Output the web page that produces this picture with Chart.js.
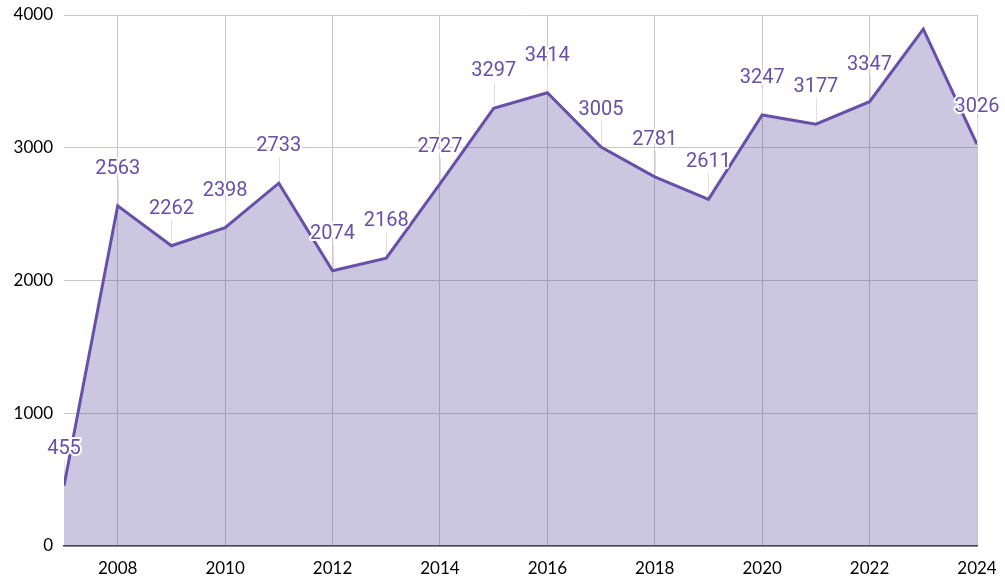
<!DOCTYPE html>
<html>
<head>
<meta charset="utf-8">
<script src="https://cdn.jsdelivr.net/npm/chart.js@4/dist/chart.umd.min.js"></script>
<style>
html,body{margin:0;padding:0;background:#fff}
#wrap{width:1005px;height:581px}
</style>
</head>
<body>
<div id="wrap"><canvas id="chart"></canvas></div>
<script>
// yearly values
const years = [2007,2008,2009,2010,2011,2012,2013,2014,2015,2016,2017,2018,2019,2020,2021,2022,2023,2024];
const values = [455,2563,2262,2398,2733,2074,2168,2727,3297,3414,3005,2781,2611,3247,3177,3347,3893,3026];
const xTicks = [2008,2010,2012,2014,2016,2018,2020,2022,2024];
const yTicks = [0,1000,2000,3000,4000];

const LINE = '#6650a8';
const LABEL = '#6650a8';

// value labels above each point, with a thin leader line and white halo
const valueLabels = {
  id:'valueLabels',
  beforeDatasetsDraw(chart){
    const ctx = chart.ctx, pts = chart.getDatasetMeta(0).data;
    ctx.save();
    ctx.strokeStyle = '#e0e0e0'; ctx.lineWidth = 1;
    pts.forEach(p=>{
      const ly = p.y - 37;
      if(ly - 10 < 0) return;
      ctx.beginPath();
      ctx.moveTo(Math.round(p.x)+0.5, ly + 11);
      ctx.lineTo(Math.round(p.x)+0.5, p.y);
      ctx.stroke();
    });
    ctx.restore();
  },
  afterDatasetsDraw(chart){
    const ctx = chart.ctx, pts = chart.getDatasetMeta(0).data;
    ctx.save();
    ctx.font = '20px Roboto';
    ctx.textAlign = 'center'; ctx.textBaseline = 'middle';
    ctx.lineJoin = 'round';
    pts.forEach((p,i)=>{
      const ly = p.y - 37;
      if(ly - 10 < 0) return;
      const t = String(values[i]);
      ctx.strokeStyle = '#fff'; ctx.lineWidth = 4;
      ctx.strokeText(t, p.x, ly);
      ctx.fillStyle = LABEL;
      ctx.fillText(t, p.x, ly);
    });
    ctx.restore();
  }
};

new Chart(document.getElementById('chart'),{
  type:'line',
  data:{datasets:[{
    data: years.map((y,i)=>({x:y,y:values[i]})),
    borderColor: LINE,
    borderWidth: 3,
    backgroundColor: 'rgba(82,68,155,0.3)',
    fill: 'origin',
    tension: 0,
    pointRadius: 0
  }]},
  options:{
    responsive:true, maintainAspectRatio:false, animation:false,
    layout:{padding:{top:15,right:28,left:0,bottom:0}},
    plugins:{legend:{display:false},tooltip:{enabled:false}},
    scales:{
      x:{
        type:'linear', min:2007, max:2024,
        afterBuildTicks:a=>{a.ticks = xTicks.map(v=>({value:v}))},
        afterFit:a=>{a.height = 35; a.paddingLeft = 0; a.paddingRight = 0},
        grid:{color:'#c8c8c8', drawTicks:false},
        border:{display:true, color:'#444444', width:1.5},
        ticks:{font:{family:'Lato', size:17}, color:'#000', padding:12, maxRotation:0, callback:v=>String(v)}
      },
      y:{
        min:0, max:4000,
        afterBuildTicks:a=>{a.ticks = yTicks.map(v=>({value:v}))},
        afterFit:a=>{a.width = 64; a.paddingTop = 0; a.paddingBottom = 0},
        grid:{color:'#c8c8c8', drawTicks:false},
        border:{display:false},
        ticks:{font:{family:'Lato', size:17}, color:'#000', padding:11, callback:v=>String(v)}
      }
    }
  },
  plugins:[valueLabels]
});
</script>
</body>
</html>
